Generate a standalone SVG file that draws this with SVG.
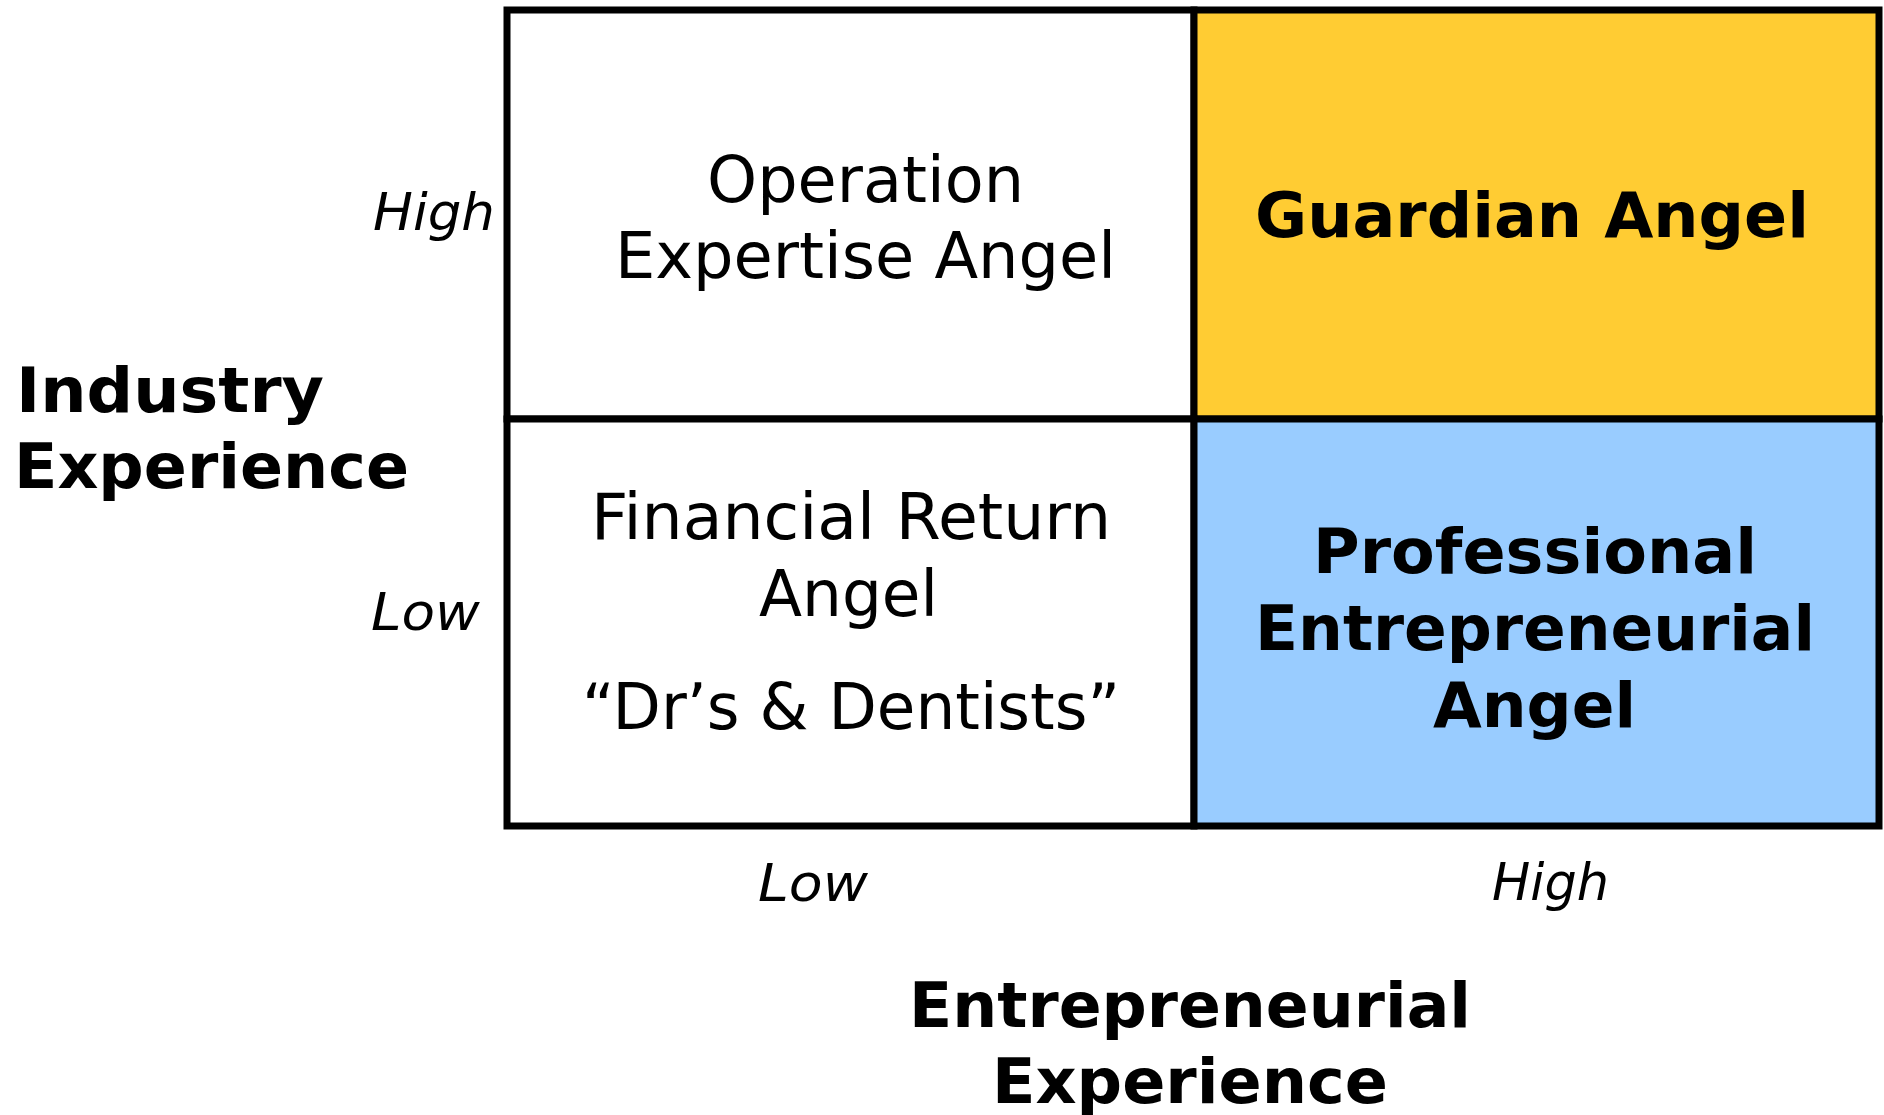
<svg xmlns="http://www.w3.org/2000/svg" width="1884" height="1115" viewBox="0 0 1884 1115">
<style>
.r{font-family:"DejaVu Sans","Verdana",sans-serif;font-size:64px;fill:#000}
.b{font-family:"DejaVu Sans","Verdana",sans-serif;font-size:63px;font-weight:bold;fill:#000}
.i{font-family:"DejaVu Sans","Verdana",sans-serif;font-size:52px;font-style:italic;fill:#000}
.cell{stroke:#000;stroke-width:7}
</style>
<rect width="1884" height="1115" fill="#fff"/>
<g id="cell-operation">
<rect class="cell" x="507" y="10" width="687" height="409" fill="#fff"/>
<text class="r" x="707" y="202" textLength="317" lengthAdjust="spacingAndGlyphs">Operation</text>
<text class="r" x="615" y="278" textLength="501" lengthAdjust="spacingAndGlyphs">Expertise Angel</text>
</g>
<g id="cell-guardian">
<rect class="cell" x="1194" y="10" width="685" height="409" fill="#FFCC33"/>
<text class="b" x="1255" y="237" textLength="554" lengthAdjust="spacingAndGlyphs">Guardian Angel</text>
</g>
<g id="cell-financial">
<rect class="cell" x="507" y="419" width="687" height="407" fill="#fff"/>
<text class="r" x="591" y="539" textLength="520" lengthAdjust="spacingAndGlyphs">Financial Return</text>
<text class="r" x="759" y="616" textLength="179" lengthAdjust="spacingAndGlyphs">Angel</text>
<text class="r" x="582" y="729" textLength="538" lengthAdjust="spacingAndGlyphs">“Dr’s &amp; Dentists”</text>
</g>
<g id="cell-professional">
<rect class="cell" x="1194" y="419" width="685" height="407" fill="#99CCFF"/>
<text class="b" x="1313" y="573" textLength="444" lengthAdjust="spacingAndGlyphs">Professional</text>
<text class="b" x="1255" y="650" textLength="560" lengthAdjust="spacingAndGlyphs">Entrepreneurial</text>
<text class="b" x="1433" y="727" textLength="203" lengthAdjust="spacingAndGlyphs">Angel</text>
</g>
<g id="connectors"></g>
<g id="axis-y">
<text class="b" x="16" y="412" textLength="308" lengthAdjust="spacingAndGlyphs">Industry</text>
<text class="b" x="14" y="488" textLength="395" lengthAdjust="spacingAndGlyphs">Experience</text>
<text class="i" x="373" y="230" textLength="122" lengthAdjust="spacingAndGlyphs">High</text>
<text class="i" x="371" y="630" textLength="109" lengthAdjust="spacingAndGlyphs">Low</text>
</g>
<g id="axis-x">
<text class="i" x="758" y="901" textLength="110" lengthAdjust="spacingAndGlyphs">Low</text>
<text class="i" x="1492" y="900" textLength="117" lengthAdjust="spacingAndGlyphs">High</text>
<text class="b" x="909" y="1027" textLength="562" lengthAdjust="spacingAndGlyphs">Entrepreneurial</text>
<text class="b" x="992" y="1103" textLength="396" lengthAdjust="spacingAndGlyphs">Experience</text>
</g>
</svg>
